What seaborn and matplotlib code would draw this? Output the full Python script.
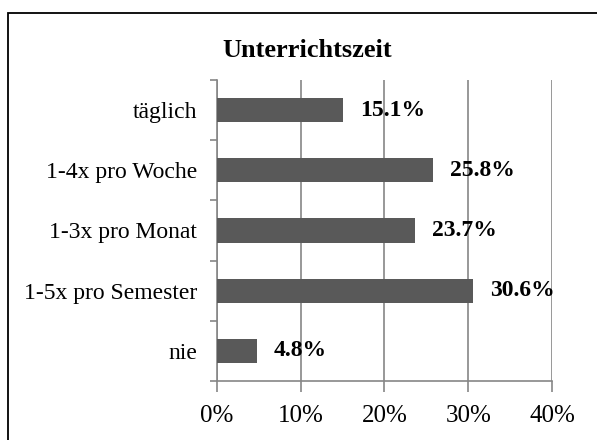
"""Unterrichtszeit: horizontal bar chart of teaching-time frequency."""

import matplotlib

matplotlib.use("Agg")

import matplotlib.pyplot as plt
import numpy as np
import pandas as pd
import seaborn as sns
from matplotlib.patches import Rectangle

categories = [
    "täglich",
    "1-4x pro Woche",
    "1-3x pro Monat",
    "1-5x pro Semester",
    "nie",
]
shares = [15.1, 25.8, 23.7, 30.6, 4.8]
x_ticks = [0, 10, 20, 30, 40]
x_tick_labels = ["0%", "10%", "20%", "30%", "40%"]

sns.set_style("white")
plt.rcParams["font.family"] = ["Liberation Serif", "DejaVu Serif"]
plt.rcParams["text.color"] = "black"
plt.rcParams["xtick.labelcolor"] = "black"
plt.rcParams["ytick.labelcolor"] = "black"

df = pd.DataFrame({"kategorie": categories, "anteil": shares})

grid_grey = "#868686"
bar_grey = "#595959"

fig = plt.figure(figsize=(5.97, 4.40), dpi=100)
ax = fig.add_axes([0.3635, 0.1341, 0.5611, 0.6841])

sns.barplot(
    data=df,
    x="anteil",
    y="kategorie",
    orient="h",
    color=bar_grey,
    width=0.4,
    saturation=1,
    linewidth=0,
    ax=ax,
    zorder=3,
)

ax.set_xlim(0, 40)
ax.set_ylim(len(categories) - 0.5, -0.5)
ax.set_xticks(x_ticks)
ax.set_xticklabels(x_tick_labels)
ax.xaxis.grid(True, color=grid_grey, linewidth=1.2, zorder=0)
ax.set_axisbelow(True)

# category labels sit between the boundary ticks
ax.set_yticks(range(len(categories)))
ax.set_yticklabels(categories)
ax.set_yticks(np.arange(-0.5, len(categories)), minor=True)
ax.tick_params(axis="y", which="major", length=0, pad=14.5, labelsize=17,
               labelcolor="black")
ax.tick_params(axis="y", which="minor", length=5, width=1.2, color=grid_grey, left=True)
ax.tick_params(axis="x", length=8, width=1.2, color=grid_grey, bottom=True,
               direction="out", pad=9, labelsize=18, labelcolor="black")

ax.set_xlabel("")
ax.set_ylabel("")
for side in ["top", "right"]:
    ax.spines[side].set_visible(False)
for side in ["left", "bottom"]:
    ax.spines[side].set_color(grid_grey)
    ax.spines[side].set_linewidth(1.2)

for container in ax.containers:
    ax.bar_label(
        container,
        labels=[f"{v:.1f}%" for v in shares],
        padding=12,
        fontsize=17,
        fontweight="bold",
        color="black",
    )

fig.text(0.514, 0.870, "Unterrichtszeit", ha="center", va="baseline",
         fontsize=19, fontweight="bold", color="black")

# chart-area frame
fig.patches.append(
    Rectangle((8 / 597, -0.1), 1.2, 1.1 - 13 / 440,
              transform=fig.transFigure, fill=False,
              edgecolor="black", linewidth=1.3, clip_on=False)
)

fig.savefig("out.png", dpi=100)
